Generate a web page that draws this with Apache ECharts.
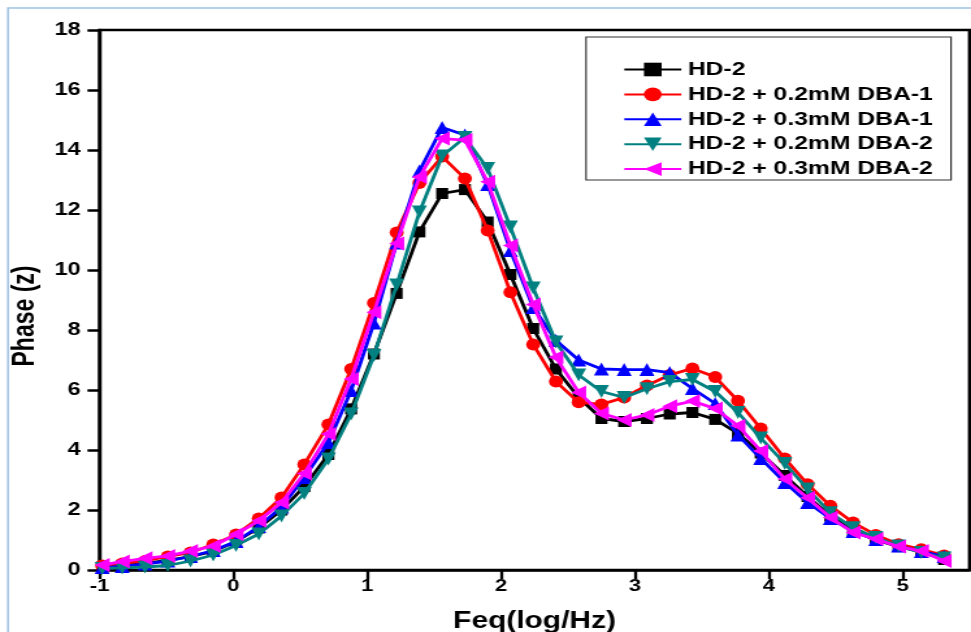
<!DOCTYPE html>
<html>
<head>
<meta charset="utf-8">
<script src="https://cdn.jsdelivr.net/npm/echarts@6/dist/echarts.min.js"></script>
<style>
  html, body { margin: 0; padding: 0; background: #ffffff; overflow: hidden; }
  #wrap { width: 971px; height: 632px; overflow: hidden; position: relative; background: #ffffff; }
  /* the figure is drawn narrow and widened, giving the broad lettering of the plot */
  #chart { width: 747px; height: 632px; transform: scaleX(1.29987); transform-origin: 0 0; }
</style>
</head>
<body>
<div id="wrap"><div id="chart"></div></div>
<script>
// log10 of frequency (Hz) for each measured point
const freqLog = [-0.98, -0.83, -0.66, -0.49, -0.32, -0.15, 0.02, 0.19, 0.36, 0.53,
                 0.71, 0.88, 1.05, 1.22, 1.39, 1.56, 1.73, 1.90, 2.07, 2.24,
                 2.41, 2.58, 2.75, 2.92, 3.09, 3.26, 3.43, 3.60, 3.77, 3.94,
                 4.12, 4.29, 4.46, 4.63, 4.80, 4.97, 5.14, 5.31];

// phase angle for each sample
const phaseHD2 = [0.10, 0.15, 0.22, 0.32, 0.45, 0.62, 0.95, 1.40, 2.00, 2.78,
                  3.85, 5.37, 7.20, 9.22, 11.27, 12.55, 12.68, 11.60, 9.85, 8.05,
                  6.70, 5.75, 5.05, 4.95, 5.05, 5.20, 5.25, 5.02, 4.55, 3.90,
                  3.15, 2.45, 1.80, 1.30, 1.00, 0.78, 0.60, 0.35];
const phase02DBA1 = [0.15, 0.22, 0.30, 0.45, 0.58, 0.85, 1.18, 1.72, 2.42, 3.52,
                     4.85, 6.70, 8.90, 11.25, 12.90, 13.78, 13.05, 11.32, 9.26, 7.52,
                     6.28, 5.59, 5.52, 5.75, 6.15, 6.50, 6.72, 6.43, 5.64, 4.72,
                     3.72, 2.86, 2.14, 1.58, 1.17, 0.86, 0.69, 0.48];
const phase03DBA1 = [0.08, 0.12, 0.20, 0.30, 0.45, 0.65, 0.95, 1.45, 2.10, 3.08,
                     4.25, 5.98, 8.23, 10.90, 13.30, 14.75, 14.50, 12.85, 10.65, 8.75,
                     7.65, 7.00, 6.70, 6.68, 6.68, 6.58, 6.05, 5.55, 4.50, 3.72,
                     2.92, 2.25, 1.72, 1.28, 1.02, 0.80, 0.62, 0.45];
const phase02DBA2 = [0.05, 0.07, 0.10, 0.15, 0.30, 0.50, 0.82, 1.20, 1.80, 2.55,
                     3.70, 5.20, 7.15, 9.50, 11.93, 13.80, 14.42, 13.38, 11.43, 9.40,
                     7.60, 6.50, 5.95, 5.75, 6.04, 6.28, 6.35, 5.95, 5.25, 4.40,
                     3.55, 2.70, 1.91, 1.41, 1.08, 0.80, 0.58, 0.40];
const phase03DBA2 = [0.17, 0.28, 0.39, 0.47, 0.63, 0.80, 1.19, 1.64, 2.25, 3.22,
                     4.53, 6.37, 8.59, 10.88, 13.10, 14.38, 14.33, 12.94, 10.82, 8.85,
                     7.09, 5.92, 5.22, 5.00, 5.17, 5.46, 5.63, 5.38, 4.81, 3.97,
                     3.03, 2.41, 1.75, 1.25, 1.03, 0.78, 0.63, 0.30];

const seriesNames = ['HD-2', 'HD-2 + 0.2mM DBA-1', 'HD-2 + 0.3mM DBA-1',
                     'HD-2 + 0.2mM DBA-2', 'HD-2 + 0.3mM DBA-2'];
const xTicks = [-1, 0, 1, 2, 3, 4, 5];
const yTicks = [0, 2, 4, 6, 8, 10, 12, 14, 16, 18];

const SX = 971 / 747;           // horizontal widening applied by CSS
const H = v => v / SX;          // screen width -> chart width
const FONT = '"Liberation Sans", Arial, Helvetica, sans-serif';

const styles = [
  { values: phaseHD2,    color: '#000000', symbol: 'rect',     rotate: 0,   size: [H(12), 11] },
  { values: phase02DBA1, color: '#ff0000', symbol: 'circle',   rotate: 0,   size: [H(14), 12] },
  { values: phase03DBA1, color: '#0000ff', symbol: 'triangle', rotate: 0,   size: [H(15), 13] },
  { values: phase02DBA2, color: '#008080', symbol: 'triangle', rotate: 180, size: [H(15), 13] },
  { values: phase03DBA2, color: '#ff00ff', symbol: 'triangle', rotate: 90,  size: [14, H(15)] }
];

const series = styles.map((s, i) => ({
  name: seriesNames[i],
  type: 'line',
  data: freqLog.map((f, k) => [f, s.values[k]]),
  symbol: s.symbol,
  symbolRotate: s.rotate,
  symbolSize: s.size,
  showAllSymbol: true,
  lineStyle: { color: s.color, width: 2.8 },
  itemStyle: { color: s.color },
  emphasis: { disabled: true },
  z: 2 + i
}));

const chart = echarts.init(document.getElementById('chart'), null, { renderer: 'canvas' });

chart.setOption({
  backgroundColor: '#ffffff',
  animation: false,
  grid: {
    left: H(99.5), top: 30, width: H(870), height: 540,
    outerBoundsMode: 'none',
    show: true, borderColor: '#000000', borderWidth: 2.5, backgroundColor: 'transparent'
  },
  xAxis: {
    type: 'value', min: -1, max: 5.5, interval: 1,
    name: 'Feq(log/Hz)', nameLocation: 'middle', nameGap: 40,
    nameTextStyle: { fontFamily: FONT, fontWeight: 'bold', fontSize: 23, color: '#000' },
    axisLine: { show: true, onZero: false, lineStyle: { color: '#000', width: 2.5 } },
    axisTick: { show: true, inside: false, length: 9, customValues: xTicks,
                lineStyle: { color: '#000', width: H(3) } },
    axisLabel: { customValues: xTicks, margin: 8, fontFamily: FONT, fontWeight: 'bold',
                 fontSize: 17, color: '#000' },
    splitLine: { show: false }
  },
  yAxis: {
    type: 'value', min: 0, max: 18, interval: 2,
    axisLine: { show: true, onZero: false, lineStyle: { color: '#000', width: H(3.2) } },
    axisTick: { show: true, inside: false, length: H(12), customValues: yTicks,
                lineStyle: { color: '#000', width: 2.5 } },
    axisLabel: { customValues: yTicks, margin: H(19), fontFamily: FONT, fontWeight: 'bold',
                 fontSize: 18, color: '#000' },
    splitLine: { show: false }
  },
  legend: {
    data: seriesNames,
    orient: 'vertical',
    left: H(623), top: 60,
    itemWidth: H(57), itemHeight: 17, itemGap: 5.9,
    padding: 0,
    symbolRotate: 'inherit',
    textStyle: { fontFamily: FONT, fontWeight: 'bold', fontSize: 19, lineHeight: 19, color: '#000' }
  },
  graphic: [
    { type: 'rect', silent: true, z: -1,
      shape: { x: H(8), y: 8, width: 1000, height: 700 },
      style: { fill: 'none', stroke: '#9fc3e3', lineWidth: 1.5 } },
    { type: 'rect', silent: true, z: 1,
      shape: { x: H(586), y: 37, width: H(365), height: 143 },
      style: { fill: '#ffffff', stroke: '#333333', lineWidth: 1.2 } },
    { type: 'text', silent: true, z: 5,
      x: H(25), y: 316, rotation: Math.PI / 2,
      style: { text: 'Phase (z)', fontFamily: FONT, fontWeight: 'bold', fontSize: 23,
               fill: '#000', align: 'center', verticalAlign: 'middle' } }
  ],
  series: series
});
</script>
</body>
</html>
